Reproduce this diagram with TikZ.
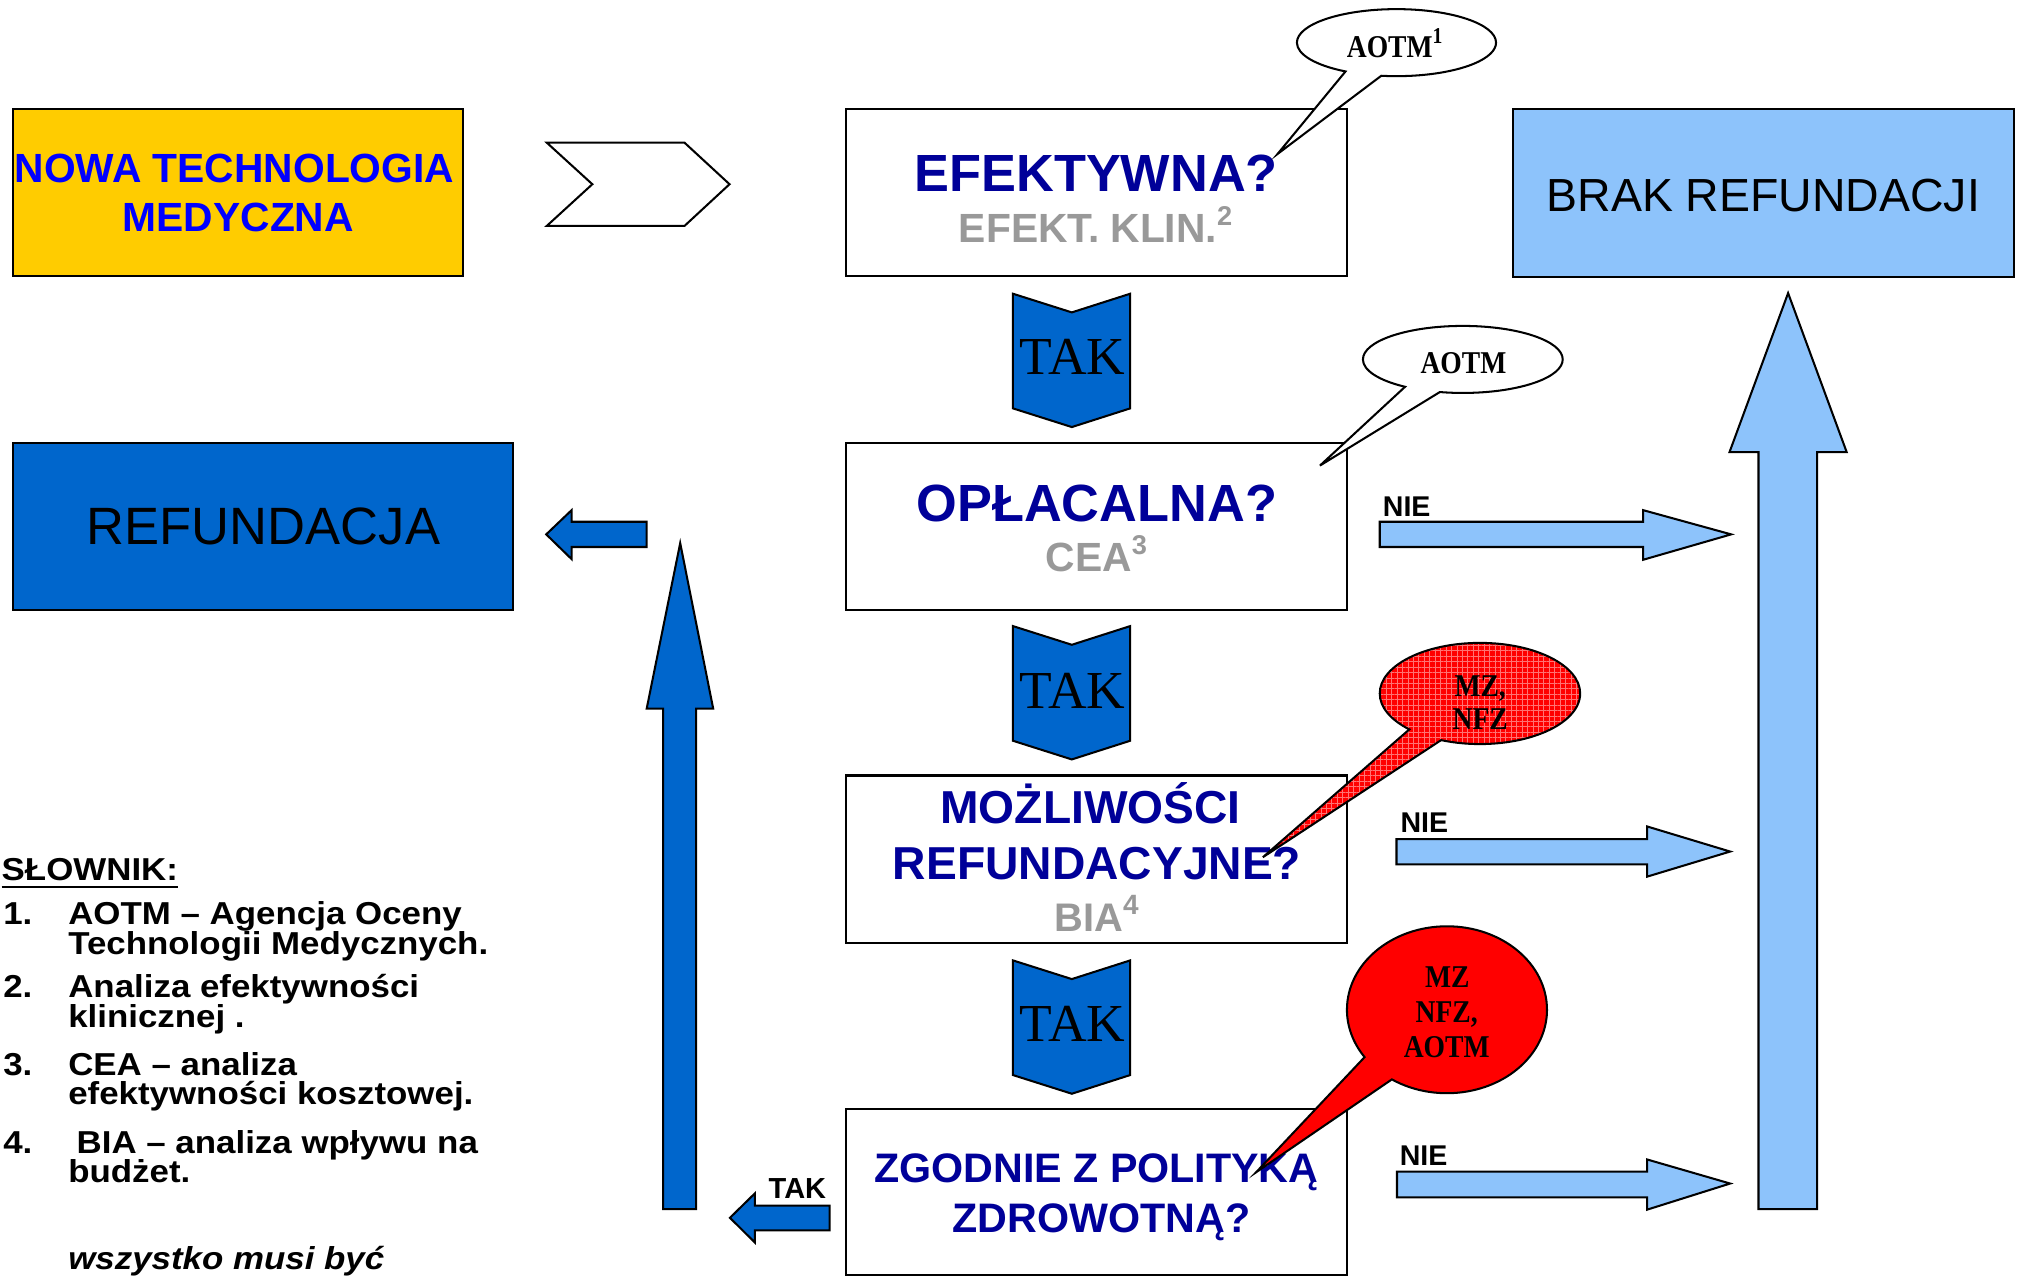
\documentclass[tikz,border=0pt]{standalone}
\usepackage{fontspec}
\setmainfont{Liberation Sans}
\newfontfamily\serifA{Liberation Serif}
\newfontfamily\serifC[FakeStretch=0.87]{Liberation Serif}
\newfontfamily\legfont[FakeStretch=1.1]{Liberation Sans}
\usetikzlibrary{shapes.callouts,patterns.meta}
\definecolor{gold}{HTML}{FFCC00}
\definecolor{tblue}{HTML}{0000FF}
\definecolor{dblue}{HTML}{000099}
\definecolor{mgray}{HTML}{999999}
\definecolor{bfill}{HTML}{0066CC}
\definecolor{lfill}{HTML}{8DC3FB}
\definecolor{cred}{HTML}{FF0000}
\newcommand\fsz[1]{\fontsize{#1pt}{#1pt}\selectfont}
\begin{document}
\begin{tikzpicture}[x=0.01cm,y=-0.01cm,line join=miter,
  box/.style={draw=black,line width=0.45pt,inner sep=0,outer sep=0},
  txt/.style={inner sep=0,outer sep=0,anchor=base},
  qtxt/.style={txt,text=dblue,font=\bfseries\fsz{11.55}},
  q2txt/.style={txt,text=dblue,font=\bfseries\fsz{10.2}},
  q3txt/.style={txt,text=dblue,font=\bfseries\fsz{9.1}},
  gtxt/.style={txt,text=mgray,font=\bfseries\fsz{9}},
  taktxt/.style={txt,font=\serifA\fsz{11.8}},
  nietxt/.style={inner sep=0,outer sep=0,anchor=base west,font=\bfseries\fsz{6.3}},
  ctxt/.style={txt,font=\serifC\bfseries\fsz{7}},
  legtxt/.style={inner sep=0,outer sep=0,anchor=base west,font=\legfont\bfseries\fsz{7}},
  blk/.style={draw=black,line width=0.45pt},
  callout/.style={ellipse callout,draw=black,line width=0.45pt,inner sep=0,outer sep=0,callout pointer arc=22}]
\useasboundingbox (0,0) rectangle (1568,990.5);

% ---- boxes
\node[box,fill=gold,minimum width=3.491cm,minimum height=1.293cm] (nowa) at (184.75,149.55) {};
\node[box,fill=white,minimum width=3.885cm,minimum height=1.29cm] (efekt) at (851.25,149.5) {};
\node[box,fill=lfill,minimum width=3.889cm,minimum height=1.299cm] (brak) at (1369,149.75) {};
\node[box,fill=bfill,minimum width=3.883cm,minimum height=1.299cm] (refund) at (204.15,408.55) {};
\node[box,fill=white,minimum width=3.886cm,minimum height=1.299cm] (oplac) at (851.3,408.55) {};
\node[box,fill=white,minimum width=3.885cm,minimum height=1.30cm] (mozl) at (851.25,667) {};
\node[box,fill=white,minimum width=3.885cm,minimum height=1.285cm] (zgod) at (851.25,925.25) {};

% ---- box texts
\node[txt,text=tblue,font=\bfseries\fsz{9}] (nowa1) at (182,141.8) {NOWA TECHNOLOGIA};
\node[txt,text=tblue,font=\bfseries\fsz{9}] (nowa2) at (185,179.8) {MEDYCZNA};
\node[qtxt] (efekt1) at (850.9,148.8) {EFEKTYWNA?};
\node[gtxt] (efekt2) at (851.3,188.4) {EFEKT. KLIN.\textsuperscript{2}};
\node[txt,font=\fsz{10.25}] (brak1) at (1368.8,163.8) {BRAK REFUNDACJI};
\node[txt,font=\fsz{11.6}] (refund1) at (204.5,422.6) {REFUNDACJA};
\node[qtxt] (oplac1) at (851.4,405) {OPŁACALNA?};
\node[gtxt] (oplac2) at (852,443.6) {CEA\textsuperscript{3}};
\node[q2txt] (mozl1) at (846.5,639.5) {MOŻLIWOŚCI};
\node[q2txt] (mozl2) at (851.6,683) {REFUNDACYJNE?};
\node[txt,text=mgray,font=\bfseries\fsz{8.8}] (mozl3) at (852,723) {BIA\textsuperscript{4}};
\node[q3txt] (zgod1) at (851,918) {ZGODNIE Z POLITYKĄ};
\node[q3txt] (zgod2) at (855,956.7) {ZDROWOTNĄ?};

% ---- white chevron
\draw[blk,fill=white] (424.4,110.7) -- (531.3,110.7) -- (566.3,143) -- (531.3,175.4) -- (424.4,175.4) -- (459.8,143) -- cycle;

% ---- TAK chevrons
\draw[blk,fill=bfill] (786.3,228) -- (832,242.5) -- (877.3,228) -- (877.3,317) -- (832,331.5) -- (786.3,317) -- cycle;
\draw[blk,fill=bfill] (786.3,486) -- (832,500.5) -- (877.3,486) -- (877.3,575) -- (832,589.5) -- (786.3,575) -- cycle;
\draw[blk,fill=bfill] (786.3,745.5) -- (832,760) -- (877.3,745.5) -- (877.3,834.5) -- (832,849) -- (786.3,834.5) -- cycle;
\node[taktxt] (tak1) at (832.5,291) {TAK};
\node[taktxt] (tak2) at (832.5,550) {TAK};
\node[taktxt] (tak3) at (832.5,808.6) {TAK};

% ---- blue arrows (left side)
\draw[blk,fill=bfill] (424,414.8) -- (443.7,396) -- (443.7,405) -- (502,405) -- (502,424.6) -- (443.7,424.6) -- (443.7,434) -- cycle;
\draw[blk,fill=bfill] (528,421.6) -- (553.6,550) -- (540.3,550) -- (540.3,938.5) -- (514.8,938.5) -- (514.8,550) -- (502,550) -- cycle;
\draw[blk,fill=bfill] (566.6,945.3) -- (586,926.3) -- (586,935.8) -- (644,935.8) -- (644,955.1) -- (586,955.1) -- (586,964.5) -- cycle;
\node[txt,font=\bfseries\fsz{6.4}] (takl) at (619,930.5) {TAK};

% ---- light blue arrows (right side)
\draw[blk,fill=lfill] (1388,227.5) -- (1433.5,351) -- (1410.6,351) -- (1410.6,938.5) -- (1365,938.5) -- (1365,351) -- (1342.5,351) -- cycle;
\draw[blk,fill=lfill] (1071,405) -- (1275.5,405) -- (1275.5,396) -- (1343.8,414.8) -- (1275.5,434.5) -- (1275.5,424.6) -- (1071,424.6) -- cycle;
\draw[blk,fill=lfill] (1084,651.3) -- (1278.5,651.3) -- (1278.5,641.5) -- (1343,661) -- (1278.5,680.5) -- (1278.5,670.9) -- (1084,670.9) -- cycle;
\draw[blk,fill=lfill] (1084.4,909.5) -- (1278.5,909.5) -- (1278.5,900) -- (1343,918.7) -- (1278.5,939) -- (1278.5,929.5) -- (1084.4,929.5) -- cycle;
\node[nietxt] (nie1) at (1073.5,400.6) {NIE};
\node[nietxt] (nie2) at (1087.2,646) {NIE};
\node[nietxt] (nie3) at (1086.6,904.6) {NIE};

% ---- callouts
\coordinate (p1) at (991.7,119.5);
\coordinate (p2) at (1024.6,361.4);
\coordinate (p3) at (980.3,665.4);
\coordinate (p4) at (975,910);
\node[callout,fill=white,minimum width=1.545cm,minimum height=0.52cm,callout absolute pointer={(p1)}] (c1) at (1084,33.1) {};
\node[callout,fill=white,minimum width=1.55cm,minimum height=0.52cm,callout absolute pointer={(p2)}] (c2) at (1135.5,279) {};
\node[callout,preaction={fill=cred},pattern={Hatch[distance=1.2pt,line width=0.2pt]},pattern color=red!55!white,minimum width=1.555cm,minimum height=0.785cm,callout absolute pointer={(p3)}] (c3) at (1148.8,538.3) {};
\node[callout,fill=cred,minimum width=1.552cm,minimum height=1.295cm,callout absolute pointer={(p4)}] (c4) at (1123.2,783.8) {};
\node[ctxt] (c1t) at (1083.5,44.5) {AOTM\textsuperscript{1}};
\node[ctxt] (c2t) at (1136,290) {AOTM};
\node[ctxt] (c3a) at (1149,541) {MZ,};
\node[ctxt] (c3b) at (1149,566.5) {NFZ};
\node[ctxt] (c4a) at (1123.5,766.7) {MZ};
\node[ctxt] (c4b) at (1123,794) {NFZ,};
\node[ctxt] (c4c) at (1123,821) {AOTM};

% ---- legend
\node[legtxt] (slow) at (1.3,683.3) {\underline{SŁOWNIK:}};
\node[legtxt] (n1) at (2.6,718) {1.};
\node[legtxt] (l1a) at (53,718) {AOTM – Agencja Oceny};
\node[legtxt] (l1b) at (53,741) {Technologii Medycznych.};
\node[legtxt] (n2) at (2.6,774.5) {2.};
\node[legtxt] (l2a) at (53,774.5) {Analiza efektywności};
\node[legtxt] (l2b) at (53,797.5) {klinicznej .};
\node[legtxt] (n3) at (2.6,834.7) {3.};
\node[legtxt] (l3a) at (53,834.7) {CEA – analiza};
\node[legtxt] (l3b) at (53,857.5) {efektywności kosztowej.};
\node[legtxt] (n4) at (2.6,895) {4.};
\node[legtxt] (l4a) at (59.5,895) {BIA – analiza wpływu na};
\node[legtxt] (l4b) at (53,918) {budżet.};
\node[legtxt,font=\legfont\bfseries\itshape\fsz{7}] (wsz) at (53,985.8) {wszystko musi być};
\end{tikzpicture}
\end{document}
